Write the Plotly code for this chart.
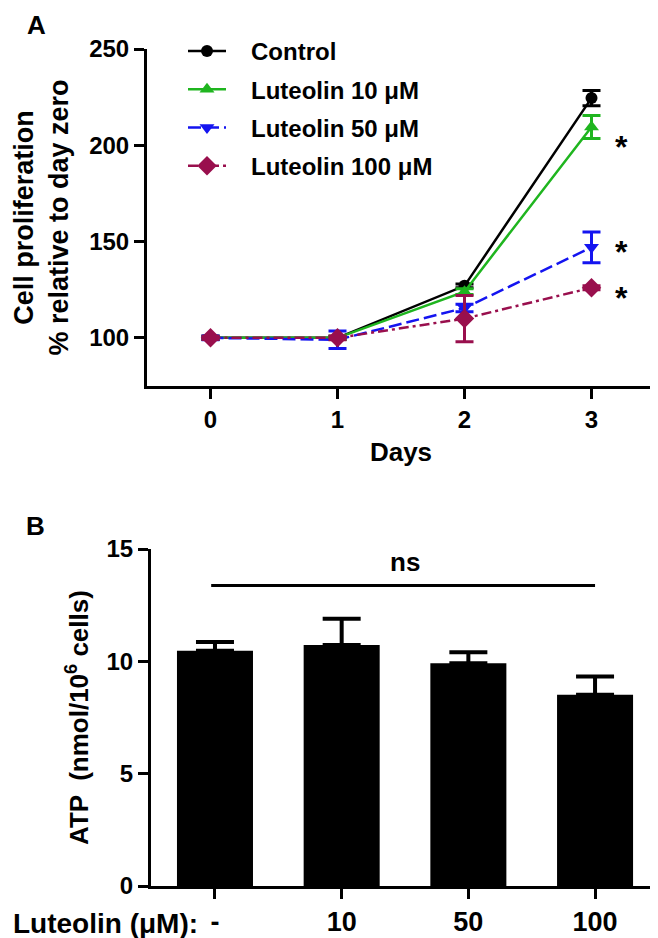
import plotly.graph_objects as go

# ---------------- data ----------------
days = [0, 1, 2, 3]
series_names = ["Control", "Luteolin 10 μM", "Luteolin 50 μM", "Luteolin 100 μM"]
control = [100, 100, 127, 224.5]
control_err = [0.8, 0.8, 1.0, 4.0]
lut10 = [100, 100, 124, 209.5]
lut10_err = [0.8, 0.8, 1.5, 6.0]
lut50 = [100, 99, 115.5, 147]
lut50_err = [1.0, 4.5, 2.0, 8.0]
lut100 = [100, 100, 110, 126]
lut100_err = [0.8, 1.0, 12.0, 1.0]
sig_y = [203, 148, 124.5]          # asterisk heights at day 3 (Luteolin 10/50/100)

atp_labels = ["-", "10", "50", "100"]
atp_vals = [10.47, 10.73, 9.92, 8.51]
atp_err = [0.39, 1.17, 0.48, 0.82]
ns_y = 13.38
ns_span = [-0.03, 3]

FONT = "Liberation Sans, Arial, sans-serif"
colors = ["#000000", "#1fb51f", "#1414f0", "#990f4d"]
symbols = ["circle", "triangle-up", "triangle-down", "diamond"]
msizes = [12, 13, 13, 15]
dashes = ["solid", "solid", "13px,5px", "10px,4px,3px,4px"]
values = [control, lut10, lut50, lut100]
errors = [control_err, lut10_err, lut50_err, lut100_err]

fig = go.Figure()

for i in range(4):
    fig.add_trace(go.Scatter(
        x=days, y=values[i], mode="lines+markers",
        name="\u00a0\u00a0\u00a0" + series_names[i],
        legendgroup="g%d" % i,
        line=dict(color=colors[i], width=2.5, dash=dashes[i]),
        marker=dict(symbol=symbols[i], size=msizes[i], color=colors[i], line=dict(width=0)),
        error_y=dict(type="data", array=errors[i], visible=True,
                     color=colors[i], thickness=3, width=9),
        xaxis="x", yaxis="y",
    ))

fig.add_trace(go.Bar(
    x=[0, 1, 2, 3], y=atp_vals, width=0.6,
    marker=dict(color="black", line=dict(width=0)),
    error_y=dict(type="data", array=atp_err, arrayminus=[0] * 4, symmetric=False,
                 visible=True, color="black", thickness=4, width=19),
    showlegend=False, xaxis="x2", yaxis="y2",
))

tickfont = dict(family=FONT, size=24, color="black", weight="bold")
titlefont = dict(family=FONT, size=26, color="black", weight="bold")
axis_common = dict(showline=True, linecolor="black", linewidth=3, ticks="outside",
                   ticklen=10, tickwidth=3, tickcolor="black", showgrid=False,
                   zeroline=False, tickfont=tickfont, automargin=False)

fig.update_layout(
    width=658, height=938, margin=dict(l=0, r=0, t=0, b=0),
    paper_bgcolor="white", plot_bgcolor="white",
    xaxis=dict(domain=[139 / 658, 647 / 658], range=[-0.5, 3.5], tickvals=days,
               anchor="y", title=dict(text="Days", font=titlefont, standoff=12),
               **axis_common),
    yaxis=dict(domain=[1 - 378 / 938, 1 - 41 / 938], range=[75, 250],
               tickvals=[100, 150, 200, 250], anchor="x",
               title=dict(text="Cell proliferation<br>% relative to day zero",
                          font=dict(family=FONT, size=27, color="black", weight="bold"),
                          standoff=13),
               **axis_common),
    xaxis2=dict(domain=[143 / 658, 1.0], range=[-0.505, 3.56], tickvals=[0, 1, 2, 3],
                ticktext=atp_labels, anchor="y2",
                **{**axis_common, "tickfont": dict(family=FONT, size=27, color="black", weight="bold")}),
    yaxis2=dict(domain=[1 - 878 / 938, 1 - 541 / 938], range=[0, 15],
                tickvals=[0, 5, 10, 15], anchor="x2",
                title=dict(text="ATP  (nmol/10<sup>6</sup> cells)",
                           font=dict(family=FONT, size=26, color="black", weight="bold"),
                           standoff=11),
                **axis_common),
    legend=dict(x=175 / 658, y=1 - 21 / 938, xanchor="left", yanchor="top",
                font=dict(family=FONT, size=24, color="black", weight="bold"),
                bgcolor="rgba(0,0,0,0)", itemwidth=38, tracegroupgap=4,
                traceorder="grouped"),
    showlegend=True,
)

# significance asterisks
for yy in sig_y:
    fig.add_annotation(x=3.24, y=yy, xref="x", yref="y", text="*", showarrow=False,
                       font=dict(family=FONT, size=32, color="black", weight="bold"),
                       xanchor="center", yanchor="middle", yshift=-7)

# ns bracket
fig.add_shape(type="line", xref="x2", yref="y2", x0=ns_span[0], x1=ns_span[1],
              y0=ns_y, y1=ns_y, line=dict(color="black", width=3))
fig.add_annotation(x=1.5, y=ns_y, xref="x2", yref="y2",
                   text="ns", showarrow=False, yanchor="bottom", yshift=6,
                   font=dict(family=FONT, size=26, color="black", weight="bold"))

# x-axis caption of panel B
fig.add_annotation(x=192 / 658, y=1 - 915 / 938, xref="paper", yref="paper",
                   text="Luteolin (μM):", showarrow=False, xanchor="right", yanchor="middle",
                   font=dict(family=FONT, size=28, color="black", weight="bold"))

# panel letters
fig.add_annotation(x=28 / 658, y=1 - 17 / 938, xref="paper", yref="paper", text="A",
                   showarrow=False, xanchor="center", yanchor="middle",
                   font=dict(family=FONT, size=26, color="black", weight="bold"))
fig.add_annotation(x=27 / 658, y=1 - 518 / 938, xref="paper", yref="paper", text="B",
                   showarrow=False, xanchor="center", yanchor="middle",
                   font=dict(family=FONT, size=26, color="black", weight="bold"))

fig.write_html("out.html")
